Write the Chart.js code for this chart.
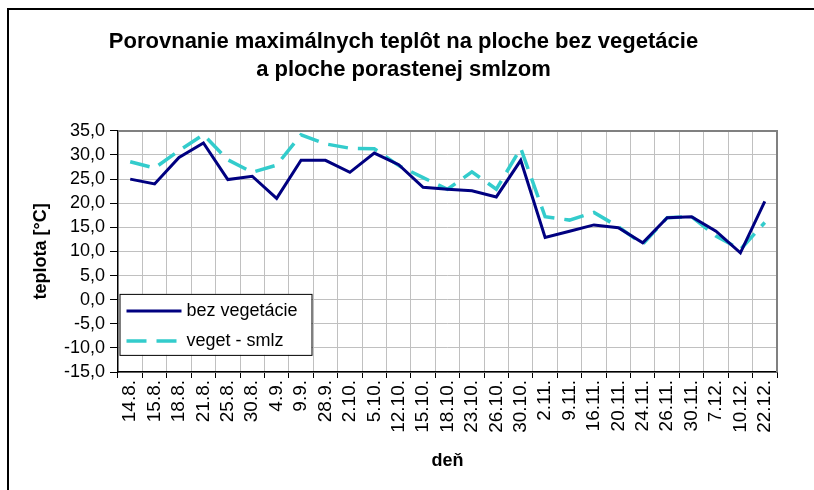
<!DOCTYPE html>
<html>
<head>
<meta charset="utf-8">
<script src="https://cdn.jsdelivr.net/npm/chart.js@4/dist/chart.umd.min.js"></script>
<style>
    html, body { margin: 0; padding: 0; background: #ffffff; }
    #chart { display: block; }
</style>
</head>
<body>
<canvas id="chart" width="814" height="490"></canvas>
<script>
// Data
const days = ['14.8.', '15.8.', '18.8.', '21.8.', '25.8.', '30.8.', '4.9.', '9.9.', '28.9.', '2.10.',
    '5.10.', '12.10.', '15.10.', '18.10.', '23.10.', '26.10.', '30.10.', '2.11.', '9.11.', '16.11.',
    '20.11.', '24.11.', '26.11.', '30.11.', '7.12.', '10.12.', '22.12.'];
const bezVegetacie = [25.0, 24.0, 29.5, 32.5, 24.9, 25.6, 21.0, 28.9, 28.9, 26.4,
    30.4, 28.0, 23.3, 22.9, 22.6, 21.3, 28.9, 12.9, 14.2, 15.5,
    14.9, 11.8, 17.0, 17.2, 14.2, 9.7, 20.4];
const vegetSmlz = [28.6, 27.3, 30.9, 34.2, 29.0, 26.4, 27.9, 34.2, 32.3, 31.4,
    31.3, 27.8, 25.3, 22.9, 26.5, 22.9, 31.4, 17.2, 16.5, 18.1,
    15.1, 11.5, 17.0, 17.2, 13.2, 10.4, 16.0];
const yMin = -15;
const yMax = 35;
const yStep = 5;

const titleLines = ['Porovnanie maximálnych teplôt na ploche bez vegetácie', 'a ploche porastenej smlzom'];
const fontFamily = "'Liberation Sans', Arial, sans-serif";

// Outer frame + darker top/right plot edge + legend box inside the plot
const framePlugin = {
    id: 'frame',
    beforeDraw(chart) {
        const c = chart.ctx;
        c.save();
        c.fillStyle = '#ffffff';
        c.fillRect(0, 0, chart.width, chart.height);
        c.strokeStyle = '#000000';
        c.lineWidth = 2;
        c.beginPath();
        c.moveTo(8, chart.height);
        c.lineTo(8, 9);
        c.lineTo(chart.width, 9);
        c.stroke();
        c.restore();
    },
    afterDatasetsDraw(chart) {
        const c = chart.ctx;
        const a = chart.chartArea;
        c.save();
        c.strokeStyle = '#808080';
        c.lineWidth = 2;
        c.beginPath();
        c.moveTo(a.left, a.top);
        c.lineTo(a.right, a.top);
        c.lineTo(a.right, a.bottom);
        c.stroke();

        // legend
        const x = a.left + 1.5, y = a.top + 163, w = 192, h = 61;
        c.fillStyle = '#ffffff';
        c.fillRect(x, y, w, h);
        c.strokeStyle = '#000000';
        c.lineWidth = 1;
        c.strokeRect(x + 0.5, y + 0.5, w, h);
        c.font = '18px ' + fontFamily;
        c.textBaseline = 'middle';
        chart.data.datasets.forEach((ds, i) => {
            const ly = y + 17 + i * 30;
            c.strokeStyle = ds.borderColor;
            c.lineWidth = ds.borderWidth;
            c.setLineDash(ds.borderDash || []);
            c.beginPath();
            c.moveTo(x + 7, ly);
            c.lineTo(x + 62, ly);
            c.stroke();
            c.setLineDash([]);
            c.fillStyle = '#000000';
            c.fillText(ds.label, x + 67, ly);
        });
        c.restore();
    }
};

const ctx = document.getElementById('chart').getContext('2d');
const chart = new Chart(ctx, {
    type: 'line',
    data: {
        labels: days,
        datasets: [
            {
                label: 'bez vegetácie',
                data: bezVegetacie,
                borderColor: '#000080',
                borderWidth: 3,
                pointRadius: 0,
                tension: 0,
                fill: false
            },
            {
                label: 'veget - smlz',
                data: vegetSmlz,
                borderColor: '#33CCCC',
                borderWidth: 3.5,
                borderDash: [20, 10],
                pointRadius: 0,
                tension: 0,
                fill: false
            }
        ]
    },
    options: {
        responsive: false,
        animation: false,
        layout: {
            padding: { left: 30, right: 37, top: 0, bottom: 0 }
        },
        plugins: {
            legend: { display: false },
            tooltip: { enabled: false },
            title: {
                display: true,
                text: titleLines,
                color: '#000000',
                font: { family: fontFamily, size: 22, weight: 'bold', lineHeight: 1.27 },
                padding: { top: 28, bottom: 47 }
            }
        },
        scales: {
            x: {
                offset: true,
                afterFit(scale) { scale.height = 118; },
                grid: {
                    offset: true,
                    color: '#c0c0c0',
                    lineWidth: 1,
                    tickColor: '#000000',
                    tickLength: 6,
                    drawTicks: true
                },
                border: { color: '#000000', width: 1.5 },
                ticks: {
                    color: '#000000',
                    autoSkip: false,
                    minRotation: 90,
                    maxRotation: 90,
                    padding: 2,
                    font: { family: fontFamily, size: 19 }
                },
                title: {
                    display: true,
                    text: 'deň',
                    color: '#000000',
                    font: { family: fontFamily, size: 18, weight: 'bold' },
                    padding: { top: 0, bottom: 18 }
                }
            },
            y: {
                min: yMin,
                max: yMax,
                afterFit(scale) { scale.width = 88; },
                grid: {
                    color: '#c0c0c0',
                    lineWidth: 1,
                    tickColor: '#000000',
                    tickLength: 8
                },
                border: { color: '#000000', width: 1.5 },
                ticks: {
                    stepSize: yStep,
                    autoSkip: false,
                    color: '#000000',
                    padding: 5,
                    font: { family: fontFamily, size: 18 },
                    callback: (v) => v.toFixed(1).replace('.', ',')
                },
                title: {
                    display: true,
                    text: 'teplota [°C]',
                    color: '#000000',
                    font: { family: fontFamily, size: 18, weight: 'bold' },
                    padding: 0
                }
            }
        }
    },
    plugins: [framePlugin]
});
</script>
</body>
</html>
